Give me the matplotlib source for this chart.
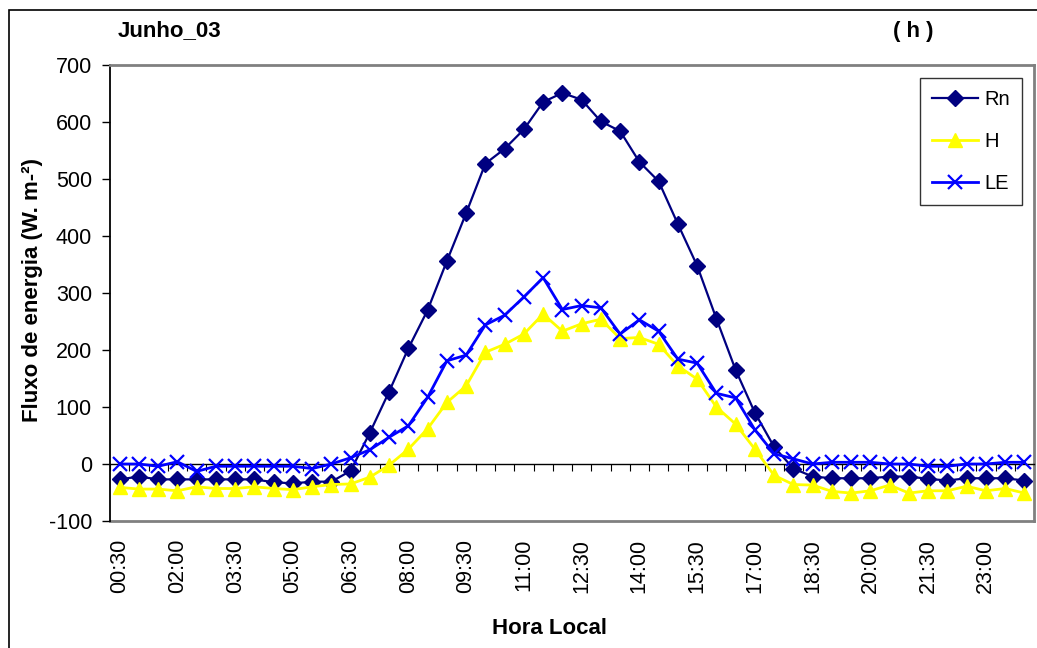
import matplotlib
matplotlib.use("Agg")
import matplotlib.pyplot as plt
from matplotlib.patches import Rectangle

plt.rcParams['font.family'] = ['Liberation Sans', 'DejaVu Sans']
plt.rcParams['axes.unicode_minus'] = False

horas = ["00:30", "01:00", "01:30", "02:00", "02:30", "03:00", "03:30", "04:00",
         "04:30", "05:00", "05:30", "06:00", "06:30", "07:00", "07:30", "08:00",
         "08:30", "09:00", "09:30", "10:00", "10:30", "11:00", "11:30", "12:00",
         "12:30", "13:00", "13:30", "14:00", "14:30", "15:00", "15:30", "16:00",
         "16:30", "17:00", "17:30", "18:00", "18:30", "19:00", "19:30", "20:00",
         "20:30", "21:00", "21:30", "22:00", "22:30", "23:00", "23:30", "24:00"]

Rn = [-27, -22, -27, -27, -27, -27, -27, -27, -32, -34, -31, -31, -12, 55, 127, 203,
      270, 356, 440, 527, 553, 587, 635, 651, 639, 601, 584, 530, 496, 421, 348, 255,
      165, 90, 30, -8, -22, -25, -25, -25, -22, -22, -26, -29, -25, -25, -25, -29]

H = [-41, -44, -44, -47, -40, -43, -43, -40, -43, -45, -40, -36, -35, -23, -2, 26,
     62, 108, 137, 196, 210, 228, 263, 233, 246, 254, 220, 222, 210, 172, 149, 100,
     70, 26, -20, -36, -37, -48, -51, -47, -37, -51, -47, -47, -39, -47, -43, -51]

LE = [0, 0, -4, 4, -13, -4, -4, -4, -4, -4, -8, 0, 11, 25, 47, 67,
      117, 181, 191, 244, 261, 293, 327, 271, 278, 274, 228, 253, 233, 184, 177, 124,
      116, 60, 18, 9, 0, 3, 3, 3, 0, 0, -4, -4, 0, 0, 3, 3]

yticks = [-100, 0, 100, 200, 300, 400, 500, 600, 700]

W, Hpx = 1037, 648
fig = plt.figure(figsize=(W / 100, Hpx / 100), dpi=100)
ax = fig.add_axes([110 / W, 1 - 521 / Hpx, (1034 - 110) / W, (521 - 65) / Hpx])

x = list(range(len(horas)))
ax.plot(x, Rn, color='#000080', lw=1.6, marker='D', markersize=8.5, label='Rn', zorder=3)
ax.plot(x, H, color='#FFFF00', lw=2.0, marker='^', markersize=9.5, label='H', zorder=4)
ax.plot(x, LE, color='#0000FF', lw=2.0, marker='x', markersize=10, markeredgewidth=1.6,
        label='LE', zorder=5)

ax.set_xlim(-0.5, len(horas) - 0.5)
ax.set_ylim(-100, 700)

# category axis crossing at zero, with tick marks between categories
ax.spines['bottom'].set_position(('data', 0))
ax.spines['bottom'].set_color('black')
ax.spines['bottom'].set_linewidth(1.0)
ax.set_xticks([i - 0.5 for i in range(len(horas) + 1)])
ax.tick_params(axis='x', direction='out', length=5, width=0.8, labelbottom=False)

ax.spines['left'].set_color('black')
ax.spines['left'].set_linewidth(1.3)
for s in ('top', 'right'):
    ax.spines[s].set_color('#808080')
    ax.spines[s].set_linewidth(2)
ax.set_yticks(yticks)
ax.tick_params(axis='y', direction='out', length=6, width=1.0, labelsize=15.5, pad=7)

# time labels along the bottom of the plot area
sec = ax.secondary_xaxis(0.0)
sec.spines['bottom'].set_color('#808080')
sec.spines['bottom'].set_linewidth(2)
sec.set_xticks(x[::3])
sec.set_xticklabels(horas[::3], rotation=90)
sec.tick_params(axis='x', length=0, labelsize=15.5, pad=13)

leg = ax.legend(loc='upper left', bbox_to_anchor=(920 / W, 1 - 78 / Hpx),
                bbox_transform=fig.transFigure, fontsize=14.5, frameon=True,
                fancybox=False, edgecolor='black', handlelength=2.3,
                labelspacing=1.15, borderpad=0.6, handletextpad=0.3, borderaxespad=0)
leg.get_frame().set_linewidth(1.0)

fig.text(33 / W, 1 - 290 / Hpx, 'Fluxo de energia (W. m-²)', rotation=90,
         ha='center', va='center', fontsize=16, fontweight='bold')
fig.text(550 / W, 1 - 628 / Hpx, 'Hora Local', ha='center', va='center',
         fontsize=16, fontweight='bold')
fig.text(118 / W, 1 - 31 / Hpx, 'Junho_03', ha='left', va='center',
         fontsize=16, fontweight='bold')
fig.text(913 / W, 1 - 31 / Hpx, '( h )', ha='center', va='center',
         fontsize=16, fontweight='bold')

fig.patches.append(Rectangle((9 / W, -0.1), 1.2, 1 - 10 / Hpx + 0.1,
                             transform=fig.transFigure, fill=False,
                             edgecolor='black', lw=1.2))

fig.savefig('out.png', dpi=100)
